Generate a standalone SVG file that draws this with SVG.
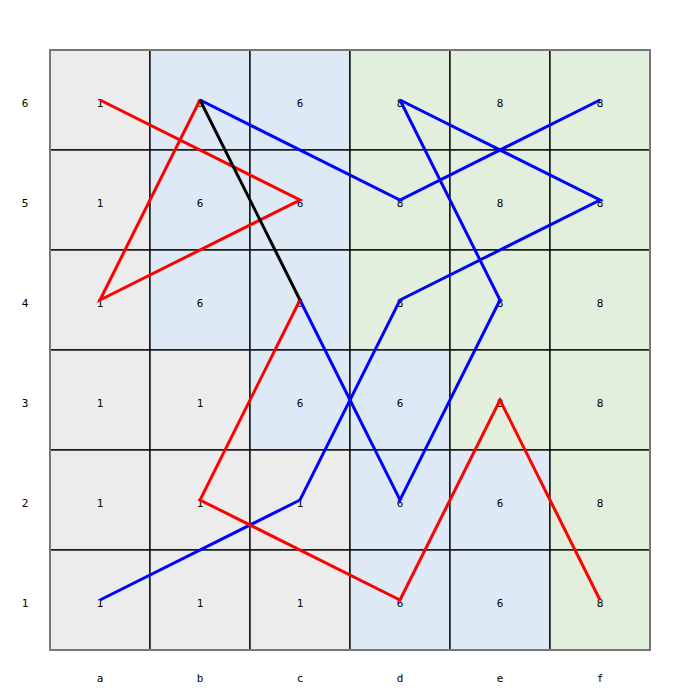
<svg xmlns="http://www.w3.org/2000/svg" width="700" height="700" viewBox="0 0 700 700">
<style>
.g{fill:#ececec}
.b{fill:#dde9f5}
.n{fill:#e2efdc}
.cell rect{stroke:#000;stroke-width:1.3}
text{font-family:"DejaVu Sans Mono","Liberation Mono",monospace;font-size:11px;fill:#000;text-anchor:middle}
.conn polyline{fill:none;stroke-width:3;stroke-linejoin:miter}
.red{stroke:#ff0000}
.blue{stroke:#0000ff}
.blk{stroke:#000}
</style>
<rect width="700" height="700" fill="#fff"/>
<g id="cells">
<g id="a6" class="cell"><rect class="g" x="50" y="50" width="100" height="100"/><text x="100" y="107">1</text></g>
<g id="b6" class="cell"><rect class="b" x="150" y="50" width="100" height="100"/><text x="200" y="107">6</text></g>
<g id="c6" class="cell"><rect class="b" x="250" y="50" width="100" height="100"/><text x="300" y="107">6</text></g>
<g id="d6" class="cell"><rect class="n" x="350" y="50" width="100" height="100"/><text x="400" y="107">8</text></g>
<g id="e6" class="cell"><rect class="n" x="450" y="50" width="100" height="100"/><text x="500" y="107">8</text></g>
<g id="f6" class="cell"><rect class="n" x="550" y="50" width="100" height="100"/><text x="600" y="107">8</text></g>

<g id="a5" class="cell"><rect class="g" x="50" y="150" width="100" height="100"/><text x="100" y="207">1</text></g>
<g id="b5" class="cell"><rect class="b" x="150" y="150" width="100" height="100"/><text x="200" y="207">6</text></g>
<g id="c5" class="cell"><rect class="b" x="250" y="150" width="100" height="100"/><text x="300" y="207">6</text></g>
<g id="d5" class="cell"><rect class="n" x="350" y="150" width="100" height="100"/><text x="400" y="207">8</text></g>
<g id="e5" class="cell"><rect class="n" x="450" y="150" width="100" height="100"/><text x="500" y="207">8</text></g>
<g id="f5" class="cell"><rect class="n" x="550" y="150" width="100" height="100"/><text x="600" y="207">8</text></g>

<g id="a4" class="cell"><rect class="g" x="50" y="250" width="100" height="100"/><text x="100" y="307">1</text></g>
<g id="b4" class="cell"><rect class="b" x="150" y="250" width="100" height="100"/><text x="200" y="307">6</text></g>
<g id="c4" class="cell"><rect class="b" x="250" y="250" width="100" height="100"/><text x="300" y="307">6</text></g>
<g id="d4" class="cell"><rect class="n" x="350" y="250" width="100" height="100"/><text x="400" y="307">8</text></g>
<g id="e4" class="cell"><rect class="n" x="450" y="250" width="100" height="100"/><text x="500" y="307">8</text></g>
<g id="f4" class="cell"><rect class="n" x="550" y="250" width="100" height="100"/><text x="600" y="307">8</text></g>

<g id="a3" class="cell"><rect class="g" x="50" y="350" width="100" height="100"/><text x="100" y="407">1</text></g>
<g id="b3" class="cell"><rect class="g" x="150" y="350" width="100" height="100"/><text x="200" y="407">1</text></g>
<g id="c3" class="cell"><rect class="b" x="250" y="350" width="100" height="100"/><text x="300" y="407">6</text></g>
<g id="d3" class="cell"><rect class="b" x="350" y="350" width="100" height="100"/><text x="400" y="407">6</text></g>
<g id="e3" class="cell"><rect class="n" x="450" y="350" width="100" height="100"/><text x="500" y="407">8</text></g>
<g id="f3" class="cell"><rect class="n" x="550" y="350" width="100" height="100"/><text x="600" y="407">8</text></g>

<g id="a2" class="cell"><rect class="g" x="50" y="450" width="100" height="100"/><text x="100" y="507">1</text></g>
<g id="b2" class="cell"><rect class="g" x="150" y="450" width="100" height="100"/><text x="200" y="507">1</text></g>
<g id="c2" class="cell"><rect class="g" x="250" y="450" width="100" height="100"/><text x="300" y="507">1</text></g>
<g id="d2" class="cell"><rect class="b" x="350" y="450" width="100" height="100"/><text x="400" y="507">6</text></g>
<g id="e2" class="cell"><rect class="b" x="450" y="450" width="100" height="100"/><text x="500" y="507">6</text></g>
<g id="f2" class="cell"><rect class="n" x="550" y="450" width="100" height="100"/><text x="600" y="507">8</text></g>

<g id="a1" class="cell"><rect class="g" x="50" y="550" width="100" height="100"/><text x="100" y="607">1</text></g>
<g id="b1" class="cell"><rect class="g" x="150" y="550" width="100" height="100"/><text x="200" y="607">1</text></g>
<g id="c1" class="cell"><rect class="g" x="250" y="550" width="100" height="100"/><text x="300" y="607">1</text></g>
<g id="d1" class="cell"><rect class="b" x="350" y="550" width="100" height="100"/><text x="400" y="607">6</text></g>
<g id="e1" class="cell"><rect class="b" x="450" y="550" width="100" height="100"/><text x="500" y="607">6</text></g>
<g id="f1" class="cell"><rect class="n" x="550" y="550" width="100" height="100"/><text x="600" y="607">8</text></g>
</g>
<rect x="50" y="50" width="600" height="600" fill="none" stroke="#777" stroke-width="2"/>
<g id="labels">
<text x="25" y="107">6</text>
<text x="25" y="207">5</text>
<text x="25" y="307">4</text>
<text x="25" y="407">3</text>
<text x="25" y="507">2</text>
<text x="25" y="607">1</text>
<text x="100" y="682">a</text>
<text x="200" y="682">b</text>
<text x="300" y="682">c</text>
<text x="400" y="682">d</text>
<text x="500" y="682">e</text>
<text x="600" y="682">f</text>
</g>
<g id="connectors" class="conn">
<polyline class="blue" points="200,100 400,200 600,100"/>
<polyline class="blue" points="400,100 500,300 400,500 300,300"/>
<polyline class="blue" points="400,100 600,200 400,300 300,500 100,600"/>
<polyline class="red" points="100,100 300,200 100,300 200,100"/>
<polyline class="red" points="300,300 200,500 400,600 500,400 600,600"/>
<polyline class="blk" points="200,100 300,300"/>
</g>
</svg>
